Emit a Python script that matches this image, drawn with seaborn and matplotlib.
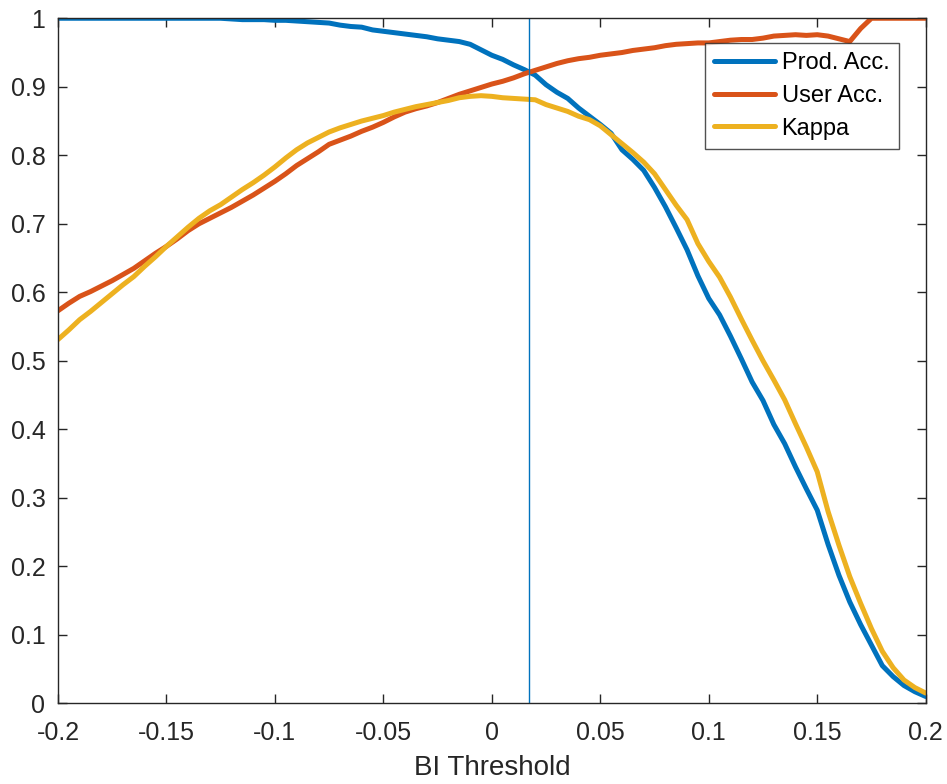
import numpy as np
import pandas as pd
import matplotlib
matplotlib.use("Agg")
import matplotlib.pyplot as plt
import seaborn as sns

# BI threshold grid (step 0.005)
thresholds = np.round(np.linspace(-0.2, 0.2, 81), 3)

prod_acc = [
    1.000, 1.000, 1.000, 1.000, 1.000, 1.000, 1.000, 1.000, 1.000, 1.000,
    1.000, 1.000, 1.000, 1.000, 1.000, 1.000, 0.999, 0.998, 0.998, 0.998,
    0.997, 0.997, 0.996, 0.995, 0.994, 0.993, 0.990, 0.988, 0.987, 0.983,
    0.981, 0.979, 0.977, 0.975, 0.973, 0.970, 0.968, 0.966, 0.962, 0.954,
    0.946, 0.940, 0.932, 0.925, 0.917, 0.903, 0.892, 0.883, 0.869, 0.857,
    0.845, 0.832, 0.808, 0.794, 0.778, 0.753, 0.725, 0.694, 0.662, 0.624,
    0.591, 0.567, 0.536, 0.503, 0.469, 0.442, 0.407, 0.379, 0.345, 0.313,
    0.282, 0.232, 0.187, 0.148, 0.115, 0.085, 0.055, 0.039, 0.026, 0.017,
    0.010,
]

user_acc = [
    0.573, 0.584, 0.594, 0.601, 0.609, 0.617, 0.626, 0.635, 0.646, 0.657,
    0.667, 0.678, 0.690, 0.700, 0.708, 0.716, 0.724, 0.733, 0.742, 0.752,
    0.762, 0.773, 0.785, 0.795, 0.805, 0.816, 0.822, 0.828, 0.835, 0.841,
    0.848, 0.856, 0.863, 0.868, 0.872, 0.877, 0.883, 0.889, 0.894, 0.899,
    0.904, 0.908, 0.913, 0.919, 0.924, 0.929, 0.934, 0.938, 0.941, 0.943,
    0.946, 0.948, 0.950, 0.953, 0.955, 0.957, 0.960, 0.962, 0.963, 0.964,
    0.964, 0.966, 0.968, 0.969, 0.969, 0.971, 0.974, 0.975, 0.976, 0.975,
    0.976, 0.974, 0.970, 0.966, 0.985, 1.000, 1.000, 1.000, 1.000, 1.000,
    1.000,
]

kappa = [
    0.531, 0.545, 0.560, 0.572, 0.585, 0.598, 0.611, 0.623, 0.638, 0.652,
    0.667, 0.681, 0.695, 0.708, 0.719, 0.728, 0.739, 0.750, 0.760, 0.771,
    0.783, 0.796, 0.808, 0.818, 0.826, 0.834, 0.840, 0.845, 0.850, 0.854,
    0.858, 0.863, 0.867, 0.871, 0.874, 0.877, 0.880, 0.884, 0.886, 0.887,
    0.886, 0.884, 0.883, 0.882, 0.881, 0.874, 0.869, 0.864, 0.857, 0.852,
    0.843, 0.830, 0.817, 0.804, 0.790, 0.773, 0.750, 0.727, 0.706, 0.671,
    0.645, 0.622, 0.593, 0.561, 0.530, 0.500, 0.472, 0.443, 0.408, 0.374,
    0.338, 0.280, 0.231, 0.185, 0.146, 0.109, 0.076, 0.052, 0.034, 0.023,
    0.015,
]

series_names = ["Prod. Acc.", "User Acc.", "Kappa"]
series_colors = ["#0072BD", "#D95319", "#EDB120"]
best_threshold = 0.0173

x_ticks = [-0.2, -0.15, -0.1, -0.05, 0, 0.05, 0.1, 0.15, 0.2]
y_ticks = [0, 0.1, 0.2, 0.3, 0.4, 0.5, 0.6, 0.7, 0.8, 0.9, 1]

df = pd.concat(
    [
        pd.DataFrame({"threshold": thresholds, "value": vals, "metric": name})
        for name, vals in zip(series_names, [prod_acc, user_acc, kappa])
    ],
    ignore_index=True,
)

sns.set_theme(style="white")
plt.rcParams["font.family"] = ["Liberation Sans", "DejaVu Sans"]

fig = plt.figure(figsize=(9.47, 7.84), dpi=100)
ax = fig.add_axes([0.0612, 0.1029, 0.9163, 0.8738])

sns.lineplot(
    data=df, x="threshold", y="value", hue="metric",
    hue_order=series_names, palette=series_colors,
    linewidth=3.6, ax=ax, legend=True,
)
ax.axvline(best_threshold, color="#0072BD", linewidth=1.0)

ax.set_xlim(-0.2, 0.2)
ax.set_ylim(0, 1)
ax.set_xticks(x_ticks)
ax.set_yticks(y_ticks)
ax.set_xticklabels([f"{t:g}" for t in x_ticks])
ax.set_yticklabels([f"{t:g}" for t in y_ticks])
ax.set_xlabel("BI Threshold", fontsize=20, color="#262626", labelpad=7)
ax.set_ylabel("")

for side in ["left", "right", "top", "bottom"]:
    ax.spines[side].set_visible(True)
    ax.spines[side].set_color("#262626")
    ax.spines[side].set_linewidth(1.0)

ax.tick_params(axis="both", which="both", direction="in", length=6.7,
               width=1.0, color="#262626", labelcolor="#262626",
               labelsize=18, top=True, right=True, bottom=True, left=True)
ax.tick_params(axis="x", pad=13)
ax.tick_params(axis="y", pad=9)

leg = ax.legend(
    loc="upper right", bbox_to_anchor=(0.969, 0.964), borderaxespad=0,
    fontsize=17, frameon=True, fancybox=False, handlelength=2.55,
    handletextpad=0.3, labelspacing=0.45, borderpad=0.4,
)
leg.get_frame().set_edgecolor("#262626")
leg.get_frame().set_linewidth(1.0)
for text in leg.get_texts():
    text.set_color("black")
for line in leg.get_lines():
    line.set_linewidth(3.6)

fig.savefig("out.png", dpi=100, facecolor="white")
